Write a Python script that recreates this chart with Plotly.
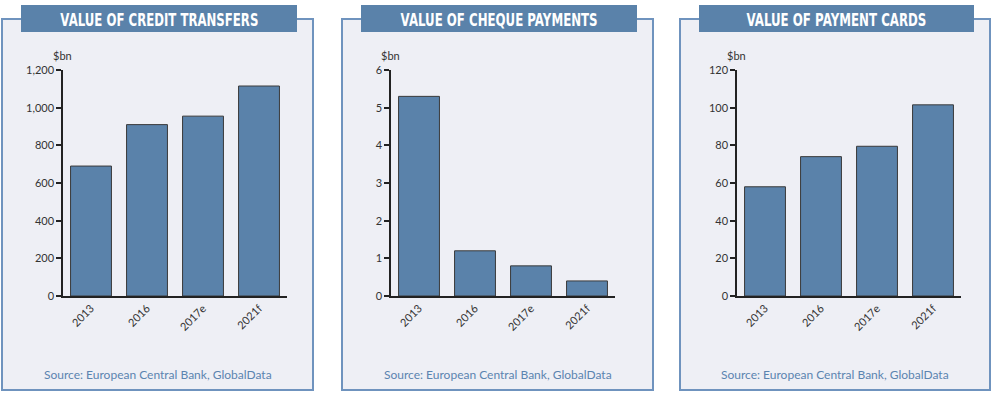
import plotly.graph_objects as go

categories = ["2013", "2016", "2017e", "2021f"]
credit_transfers = [690, 910, 955, 1115]
cheque_payments = [5.3, 1.2, 0.8, 0.4]
payment_cards = [58, 74, 79.5, 101.5]

titles = ["VALUE OF CREDIT TRANSFERS", "VALUE OF CHEQUE PAYMENTS", "VALUE OF PAYMENT CARDS"]
source_text = "Source: European Central Bank, GlobalData"
unit_label = "$bn"
y_ranges = [[0, 1200], [0, 6], [0, 120]]
y_dtick = [200, 1, 20]

W, H = 993, 394
BAR = "#5a82aa"
PANEL_BG = "#eeeff5"
BORDER = "#6f93be"
title_widths = [198, 197, 180]

def px(x):
    return x / W

def py(y):
    return (H - y) / H

fig = go.Figure()

series = [credit_transfers, cheque_payments, payment_cards]
axis_x = [(63, 287), (391, 615), (737, 961)]
boxes = [(2, 313), (342, 653), (680, 990)]
banners = [(21, 297), (361, 637), (699, 974)]

shapes = []
annotations = []
for i in range(3):
    xa = "x" if i == 0 else f"x{i+1}"
    ya = "y" if i == 0 else f"y{i+1}"
    fig.add_trace(go.Bar(
        x=categories, y=series[i], xaxis=xa, yaxis=ya,
        marker=dict(color=BAR, line=dict(color="#3a3a3a", width=1)),
        showlegend=False, hoverinfo="x+y",
    ))
    xk = "xaxis" if i == 0 else f"xaxis{i+1}"
    yk = "yaxis" if i == 0 else f"yaxis{i+1}"
    fig.update_layout(**{
        xk: dict(domain=[px(axis_x[i][0]), px(axis_x[i][1])], anchor=ya,
                 range=[-0.5, 3.5], showline=True, linecolor="#222", linewidth=1.5,
                 ticks="", tickangle=-45, showgrid=False, zeroline=False,
                 tickfont=dict(family="Lato, sans-serif", size=11, color="#333"),
                 fixedrange=True, automargin=False),
        yk: dict(domain=[py(296), py(70)], anchor=xa, range=y_ranges[i],
                 dtick=y_dtick[i], tick0=0, tickformat=",", showline=True,
                 linecolor="#222", linewidth=1.5, ticks="outside", ticklen=5,
                 tickwidth=1.5, tickcolor="#222", showgrid=False, zeroline=False,
                 tickfont=dict(family="Lato, sans-serif", size=11, color="#333"),
                 fixedrange=True, automargin=False),
    })
    b0, b1 = boxes[i]
    shapes.append(dict(type="rect", xref="paper", yref="paper", layer="below",
                       x0=px(b0), x1=px(b1), y0=py(390), y1=py(19),
                       fillcolor=PANEL_BG, line=dict(color=BORDER, width=2)))
    t0, t1 = banners[i]
    shapes.append(dict(type="rect", xref="paper", yref="paper", layer="below",
                       x0=px(t0), x1=px(t1), y0=py(32), y1=py(5),
                       fillcolor=BAR, line=dict(width=0)))
    annotations.append(dict(text=titles[i], xref="paper", yref="paper",
                            x=px((t0 + t1) / 2), y=py(19.5), xanchor="center", yanchor="middle",
                            showarrow=False,
                            font=dict(family="DejaVu Sans", weight="bold",
                                      size=17, color="white")))
    annotations.append(dict(text=source_text, xref="paper", yref="paper",
                            x=px((b0 + b1) / 2), y=py(374), xanchor="center", yanchor="middle",
                            showarrow=False,
                            font=dict(family="Lato, sans-serif", size=12, color="#5b84b0")))
    annotations.append(dict(text=unit_label, xref="paper", yref="paper",
                            x=px(axis_x[i][0] - 1), y=py(55), xanchor="center", yanchor="middle",
                            showarrow=False,
                            font=dict(family="Lato, sans-serif", size=11, color="#333")))

fig.update_layout(
    width=W, height=H, margin=dict(l=0, r=0, t=0, b=0, pad=0, autoexpand=False),
    paper_bgcolor="white", plot_bgcolor="rgba(0,0,0,0)",
    bargap=0.27, shapes=shapes, annotations=annotations,
)

width_map = "{" + ",".join(f'"{t}":{w}' for t, w in zip(titles, title_widths)) + "}"
post = """
document.documentElement.style.margin='0';
document.body.style.margin='0';
document.body.style.padding='0';
document.body.style.overflow='hidden';
var gd = document.getElementById('{plot_id}');
var widths = WIDTHS;
gd.querySelectorAll('text.annotation-text').forEach(function(t){
  var s = t.textContent;
  if (widths[s]) { t.setAttribute('textLength', widths[s]); t.setAttribute('lengthAdjust', 'spacingAndGlyphs'); }
});
""".replace("WIDTHS", width_map)

fig.write_html("out.html", post_script=post, config={"displayModeBar": False})
